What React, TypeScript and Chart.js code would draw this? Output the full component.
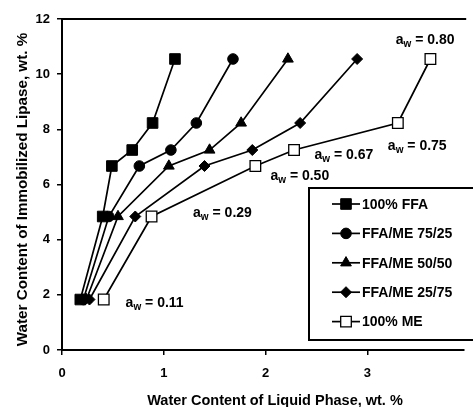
import React, { useEffect, useRef } from 'react';
import { Chart, registerables } from 'chart.js';

Chart.register(...registerables);

// ---- data ----
const awLevels = ['0.11', '0.29', '0.50', '0.67', '0.75', '0.80'];
const lipaseWater = [1.83, 4.84, 6.67, 7.25, 8.23, 10.55];
const ffa100 = [0.18, 0.4, 0.49, 0.69, 0.89, 1.11];
const ffaMe7525 = [0.21, 0.46, 0.76, 1.07, 1.32, 1.68];
const ffaMe5050 = [0.24, 0.55, 1.05, 1.45, 1.76, 2.22];
const ffaMe2575 = [0.27, 0.72, 1.4, 1.87, 2.34, 2.9];
const me100 = [0.41, 0.88, 1.9, 2.28, 3.3, 3.62];
const seriesLabels = ['100% FFA', 'FFA/ME 75/25', 'FFA/ME 50/50', 'FFA/ME 25/75', '100% ME'];
const xTicks = [0, 1, 2, 3];
const yTicks = [0, 2, 4, 6, 8, 10, 12];
const xTitle = 'Water Content of Liquid Phase, wt. %';
const yTitle = 'Water Content of Immobilized Lipase, wt. %';
// anchors of the a_w labels (data coordinates: left edge, baseline)
const awLabelX = [0.625, 1.288, 2.048, 2.481, 3.202, 3.279];
const awLabelY = [1.577, 4.82, 6.163, 6.925, 7.233, 11.094];

const FONT = '"Liberation Sans", Arial, sans-serif';

function drawMarker(
  ctx: CanvasRenderingContext2D,
  style: string,
  x: number,
  y: number,
  r: number,
  fill: string,
  stroke: string,
  lw: number
) {
  ctx.save();
  ctx.beginPath();
  if (style === 'rect') {
    const s = r * Math.SQRT1_2;
    ctx.rect(x - s, y - s, 2 * s, 2 * s);
  } else if (style === 'circle') {
    ctx.arc(x, y, r, 0, Math.PI * 2);
  } else if (style === 'triangle') {
    ctx.moveTo(x, y - r);
    ctx.lineTo(x + r * Math.sin((2 * Math.PI) / 3), y - r * Math.cos((2 * Math.PI) / 3));
    ctx.lineTo(x + r * Math.sin((4 * Math.PI) / 3), y - r * Math.cos((4 * Math.PI) / 3));
    ctx.closePath();
  } else if (style === 'rectRot') {
    ctx.moveTo(x - r, y);
    ctx.lineTo(x, y - r);
    ctx.lineTo(x + r, y);
    ctx.lineTo(x, y + r);
    ctx.closePath();
  }
  ctx.fillStyle = fill;
  ctx.fill();
  ctx.lineWidth = lw;
  ctx.strokeStyle = stroke;
  ctx.stroke();
  ctx.restore();
}

const extrasPlugin = {
  id: 'extras',
  afterDraw(chart: any) {
    const { ctx, chartArea, scales } = chart;
    ctx.save();
    // top frame line
    ctx.beginPath();
    ctx.strokeStyle = '#000';
    ctx.lineWidth = 2;
    ctx.moveTo(chartArea.left - 1, chartArea.top);
    ctx.lineTo(chartArea.right + 2, chartArea.top);
    ctx.stroke();

    // axis titles
    ctx.fillStyle = '#000';
    ctx.textBaseline = 'alphabetic';
    ctx.textAlign = 'center';
    ctx.font = `bold 14.5px ${FONT}`;
    ctx.fillText(xTitle, 275, 405);
    ctx.save();
    ctx.translate(27, 189.5);
    ctx.rotate(-Math.PI / 2);
    ctx.font = `bold 15.2px ${FONT}`;
    ctx.fillText(yTitle, 0, 0);
    ctx.restore();

    // a_w labels
    ctx.textAlign = 'left';
    awLevels.forEach((lv, i) => {
      let x = scales.x.getPixelForValue(awLabelX[i]);
      const y = scales.y.getPixelForValue(awLabelY[i]);
      ctx.font = `bold 14px ${FONT}`;
      ctx.fillText('a', x, y);
      x += ctx.measureText('a').width;
      ctx.font = `bold 10px ${FONT}`;
      ctx.fillText('w', x, y + 3);
      x += ctx.measureText('w').width;
      ctx.font = `bold 14px ${FONT}`;
      ctx.fillText(' = ' + lv, x, y);
    });

    // legend box
    const boxL = 309;
    const boxT = 188;
    const boxB = 340;
    ctx.beginPath();
    ctx.fillStyle = '#fff';
    ctx.fillRect(boxL, boxT, chart.width - boxL + 5, boxB - boxT);
    ctx.lineWidth = 2;
    ctx.strokeStyle = '#000';
    ctx.strokeRect(boxL, boxT, chart.width - boxL + 5, boxB - boxT);

    const rowY0 = 204;
    const rowStep = 29.4;
    chart.data.datasets.forEach((ds: any, i: number) => {
      const y = rowY0 + i * rowStep;
      ctx.beginPath();
      ctx.lineWidth = 1.7;
      ctx.strokeStyle = '#000';
      ctx.moveTo(332, y);
      ctx.lineTo(360, y);
      ctx.stroke();
      drawMarker(ctx, ds.pointStyle, 346, y, ds.pointRadius, ds.pointBackgroundColor, '#000', ds.pointBorderWidth);
      ctx.fillStyle = '#000';
      ctx.font = `bold 14px ${FONT}`;
      ctx.textBaseline = 'middle';
      ctx.fillText(ds.label, 362, y + 1);
    });
    ctx.restore();
  },
};

export default function App() {
  const canvasRef = useRef<HTMLCanvasElement | null>(null);

  useEffect(() => {
    if (!canvasRef.current) return;
    const seriesX = [ffa100, ffaMe7525, ffaMe5050, ffaMe2575, me100];
    const styles = ['rect', 'circle', 'triangle', 'rectRot', 'rect'];
    const radii = [7.5, 5.3, 6.2, 5.5, 7.5];
    const fills = ['#000', '#000', '#000', '#000', '#fff'];
    const datasets = seriesX.map((xs, i) => ({
      label: seriesLabels[i],
      data: xs.map((x, j) => ({ x, y: lipaseWater[j] })),
      showLine: true,
      borderColor: '#000',
      borderWidth: 1.7,
      pointStyle: styles[i],
      pointRadius: radii[i],
      pointBackgroundColor: fills[i],
      pointBorderColor: '#000',
      pointBorderWidth: i === 4 ? 1.3 : 1,
      order: i,
    }));

    const chart = new Chart(canvasRef.current, {
      type: 'scatter',
      data: { datasets },
      options: {
        responsive: false,
        animation: false,
        devicePixelRatio: 1,
        layout: { padding: { top: 19, right: 0, left: 0, bottom: 0 } },
        plugins: { legend: { display: false }, tooltip: { enabled: false } },
        scales: {
          x: {
            type: 'linear',
            min: 0,
            max: 3.952,
            afterBuildTicks: (s: any) => {
              s.ticks = xTicks.map((v) => ({ value: v }));
            },
            afterFit: (s: any) => {
              s.height = 57;
            },
            ticks: {
              color: '#000',
              font: { family: FONT, size: 13, weight: 'bold' },
              padding: 10.5,
              maxRotation: 0,
            },
            grid: {
              drawOnChartArea: false,
              drawTicks: true,
              tickLength: 5,
              color: '#000',
              lineWidth: 1.5,
            },
            border: { display: true, color: '#000', width: 2 },
            title: { display: false },
          },
          y: {
            type: 'linear',
            min: 0,
            max: 12,
            afterBuildTicks: (s: any) => {
              s.ticks = yTicks.map((v) => ({ value: v }));
            },
            afterFit: (s: any) => {
              s.width = 62;
            },
            ticks: {
              color: '#000',
              font: { family: FONT, size: 13, weight: 'bold' },
              padding: 7,
            },
            grid: {
              drawOnChartArea: false,
              drawTicks: true,
              tickLength: 5,
              color: '#000',
              lineWidth: 1.5,
            },
            border: { display: true, color: '#000', width: 2 },
            title: { display: false },
          },
        },
      },
      plugins: [extrasPlugin],
    } as any);
    return () => chart.destroy();
  }, []);

  return (
    <div style={{ position: 'absolute', left: 0, top: 0, width: 473, height: 407, background: '#fff' }}>
      <canvas ref={canvasRef} width={473} height={407} />
    </div>
  );
}
